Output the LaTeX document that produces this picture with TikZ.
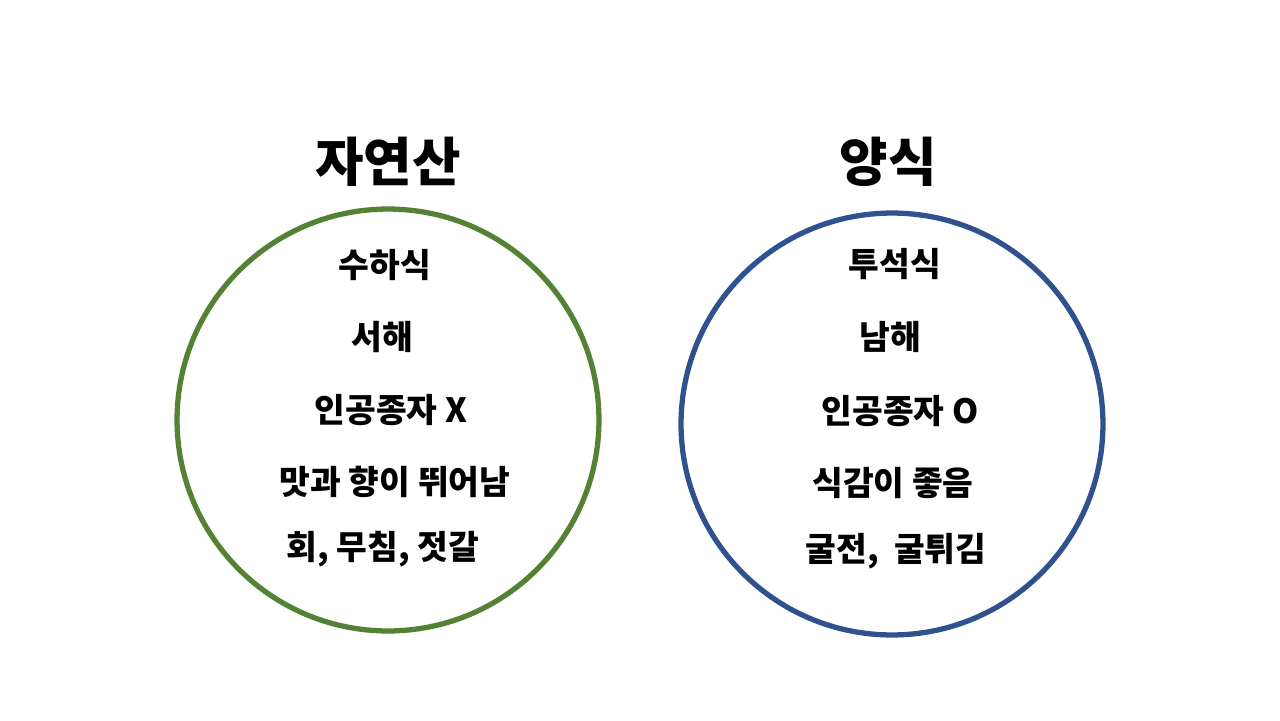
\documentclass[tikz,border=0pt]{standalone}
\usepackage{fontspec}
\newfontfamily\kr{Noto Sans CJK KR}
\definecolor{natgreen}{HTML}{548235}
\definecolor{farmblue}{HTML}{2F528F}
\begin{document}
\begin{tikzpicture}[x=0.02cm,y=-0.02cm,
  title/.style={font=\kr\bfseries\fontsize{30}{33}\selectfont,inner sep=0pt},
  item/.style={font=\kr\bfseries\fontsize{19}{22}\selectfont,inner sep=0pt}]
  \useasboundingbox (0,0) rectangle (1280,720);
  % left circle: wild
  \draw[natgreen,line width=3pt] (388,420) circle[radius=4.22cm];
  \node[title] (wild) at (388,162) {자연산};
  \node[item] (w1) at (385,265) {수하식};
  \node[item] (w2) at (382,337) {서해};
  \node[item] (w3) at (391,410) {인공종자 X};
  \node[item] (w4) at (395,482) {맛과 향이 뛰어남};
  \node[item] (w5) at (383,549) {회, 무침, 젓갈};
  % right circle: farmed
  \draw[farmblue,line width=3pt] (892,424) circle[radius=4.22cm];
  \node[title] (farm) at (888,162) {양식};
  \node[item] (f1) at (895,264) {투석식};
  \node[item] (f2) at (890,337) {남해};
  \node[item] (f3) at (900,411) {인공종자 O};
  \node[item] (f4) at (893,483) {식감이 좋음};
  \node[item] (f5) at (896,551) {굴전,\ \ 굴튀김};
\end{tikzpicture}
\end{document}
